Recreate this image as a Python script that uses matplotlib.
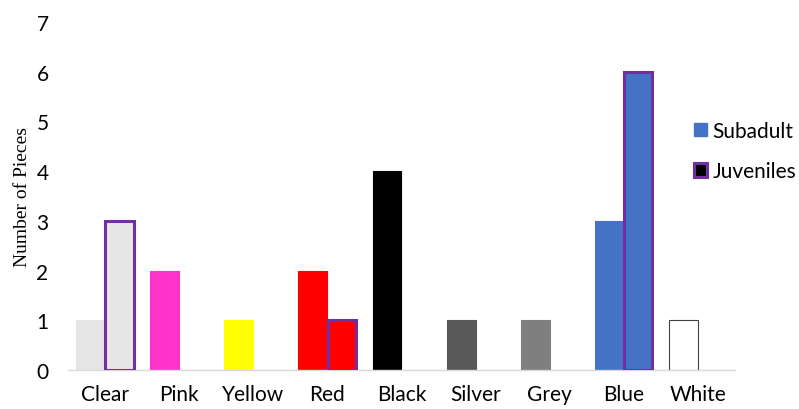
import matplotlib

matplotlib.use("Agg")
import matplotlib.pyplot as plt
import numpy as np
from matplotlib.patches import Patch

categories = ["Clear", "Pink", "Yellow", "Red", "Black", "Silver", "Grey", "Blue", "White"]
subadult = [1, 2, 1, 2, 4, 1, 1, 3, 1]
juveniles = [3, 0, 0, 1, 0, 0, 0, 6, 0]
bar_colors = ["#E7E6E6", "#FF33CC", "#FFFF00", "#FF0000", "#000000",
              "#595959", "#7F7F7F", "#4472C4", "#FFFFFF"]
bar_edges = ["#E7E6E6", "#FF33CC", "#FFFF00", "#FF0000", "#000000",
             "#595959", "#7F7F7F", "#4472C4", "#404040"]
JUV_EDGE = "#7030A0"

plt.rcParams["font.family"] = ["Lato", "DejaVu Sans"]

fig = plt.figure(figsize=(7.99, 4.10), dpi=100)
ax = fig.add_axes([68 / 799, 1 - 371 / 410, (735 - 68) / 799, (371 - 23) / 410])

x = np.arange(len(categories))
w = 0.39
ax.bar(x - w / 2, subadult, w, color=bar_colors, edgecolor=bar_edges,
       linewidth=0.8, zorder=2)
# zero-height bars get no outline so nothing shows on the baseline
juv_lw = [2.2 if v > 0 else 0 for v in juveniles]
ax.bar(x + w / 2, juveniles, w * 0.97, color=bar_colors, edgecolor=JUV_EDGE,
       linewidth=juv_lw, zorder=3)

ax.set_xlim(-0.5, len(categories) - 0.5)
ax.set_ylim(0, 7)
ax.set_yticks(range(8))
ax.set_xticks(x)
ax.set_xticklabels(categories)
ax.tick_params(axis="both", length=0, labelsize=15, colors="#000000")
ax.tick_params(axis="y", pad=14)
ax.tick_params(axis="x", pad=10)

for side in ("top", "right", "left"):
    ax.spines[side].set_visible(False)
ax.spines["bottom"].set_color("#D9D9D9")
ax.spines["bottom"].set_linewidth(1.0)

ax.set_ylabel("Number of Pieces", family="Liberation Serif", fontsize=14,
              labelpad=4)

handles = [
    Patch(facecolor="#4472C4", edgecolor="#4472C4", label="Subadult"),
    Patch(facecolor="#000000", edgecolor=JUV_EDGE, linewidth=2.2, label="Juveniles"),
]
fig.legend(handles=handles, loc="center left", bbox_to_anchor=(694 / 799, 1 - 152 / 410),
           frameon=False, fontsize=15, handlelength=0.6, handleheight=0.6,
           handletextpad=0.3, labelspacing=1.0, borderpad=0, borderaxespad=0)

fig.savefig("out.png", dpi=100)
